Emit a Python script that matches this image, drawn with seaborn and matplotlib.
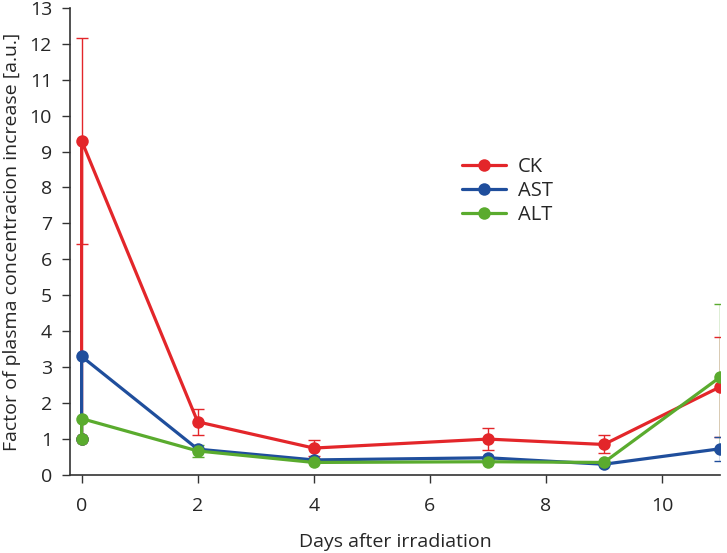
import matplotlib
matplotlib.use("Agg")
import matplotlib.pyplot as plt
import seaborn as sns
import numpy as np
import pandas as pd

days = [0, 0, 2, 4, 7, 9, 11]
ck = [1.0, 9.3, 1.48, 0.75, 1.0, 0.85, 2.45]
ck_err = [np.nan, 2.87, 0.37, 0.22, 0.30, 0.25, 1.40]
ast = [1.0, 3.3, 0.72, 0.42, 0.48, 0.30, 0.73]
ast_err = [np.nan, np.nan, np.nan, np.nan, np.nan, np.nan, 0.33]
alt = [1.0, 1.57, 0.67, 0.35, 0.37, 0.35, 2.72]
alt_err = [np.nan, np.nan, 0.17, np.nan, np.nan, np.nan, 2.05]

names = ["CK", "AST", "ALT"]
colors = {"CK": "#e3262a", "AST": "#1f4e9c", "ALT": "#5aab2e"}

rows = []
for name, vals, errs in [("CK", ck, ck_err), ("AST", ast, ast_err), ("ALT", alt, alt_err)]:
    for i, (d, v, e) in enumerate(zip(days, vals, errs)):
        rows.append({"day": d, "value": v, "err": e, "series": name, "order": i})
df = pd.DataFrame(rows)

sns.set_style("ticks")
plt.rcParams['font.family'] = ['Open Sans', 'DejaVu Sans']

fig = plt.figure(figsize=(7.27, 5.53), dpi=100)
ax = fig.add_axes([0.0963, 0.141, 0.894, 0.845])

for name in names:
    sub = df[df.series == name]
    ax.errorbar(sub["day"], sub["value"], yerr=sub["err"], fmt="none",
                ecolor=colors[name], elinewidth=1.0, capsize=4, capthick=1.0, zorder=2)

sns.lineplot(data=df, x="day", y="value", hue="series", hue_order=names,
             palette=colors, estimator=None, sort=False, units="series",
             marker="o", markersize=9, markeredgewidth=0, linewidth=2.3,
             ax=ax, zorder=3)

ax.set_xlim(-0.2, 11.0)
ax.set_ylim(0, 13)
ax.set_xticks([0, 2, 4, 6, 8, 10])
ax.set_yticks(range(0, 14))
ax.tick_params(labelsize=14, length=6, width=1, color="#333333", pad=7)
ax.tick_params(axis="x", pad=10)
for s in ["top", "right"]:
    ax.spines[s].set_visible(False)
for s in ["left", "bottom"]:
    ax.spines[s].set_linewidth(1.2)
    ax.spines[s].set_color("#333333")

ax.set_xlabel("Days after irradiation", fontsize=14, labelpad=13)
ax.set_ylabel("Factor of plasma concentracion increase [a.u.]", fontsize=14, labelpad=6)

leg = ax.legend(title=None, frameon=False, fontsize=14.5, loc="upper left",
                bbox_to_anchor=(0.575, 0.72), handlelength=2.2, labelspacing=0.2,
                handletextpad=0.6)

fig.savefig("out.png", dpi=100)
